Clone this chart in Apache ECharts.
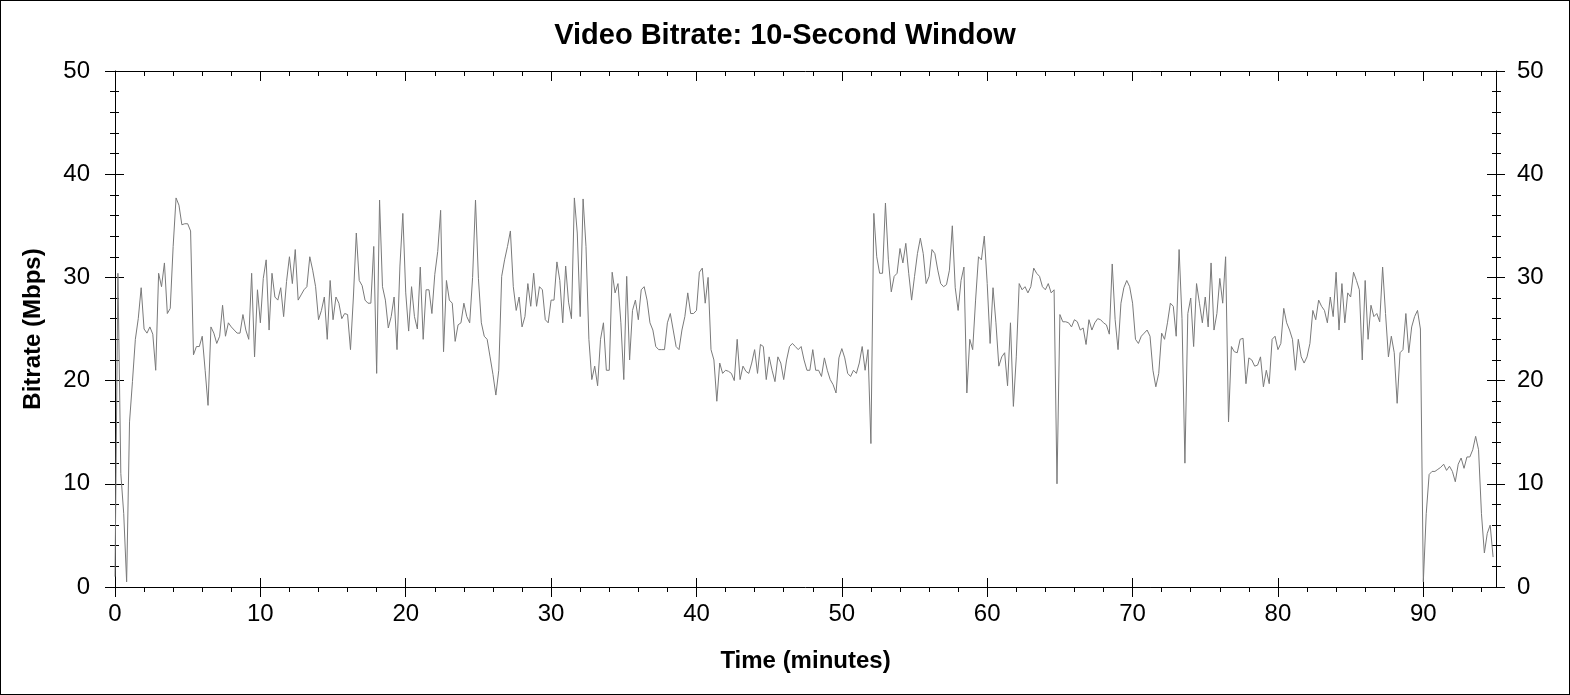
<!DOCTYPE html>
<html>
<head>
<meta charset="utf-8">
<script src="https://cdn.jsdelivr.net/npm/echarts@6/dist/echarts.min.js"></script>
<style>
html, body { margin: 0; padding: 0; background: #fff; }
#wrap { position: relative; width: 1570px; height: 695px; }
#chart { position: absolute; left: 0; top: 0; width: 1570px; height: 695px; }
#frame { position: absolute; left: 0; top: 0; width: 1570px; height: 695px; box-sizing: border-box; border: 1px solid #000; pointer-events: none; }
</style>
</head>
<body>
<div id="wrap"><div id="chart"></div><div id="frame"></div></div>
<script>
// Sample spacing of the bitrate readings, in minutes
const STEP_MINUTES = 0.2;

// Bitrate (Mbps), one value every 0.2 minutes, split by 10-minute block
const rates00to10 = [1, 30.4, 11, 7.1, 0.5, 16, 19.9, 24, 26, 29,
  25, 24.6, 25.2, 24.5, 21, 30.4, 29.1, 31.4, 26.5, 27,
  33, 37.7, 37, 35.1, 35.2, 35.2, 34.5, 22.5, 23.3, 23.3,
  24.3, 21, 17.6, 25.2, 24.6, 23.6, 24.3, 27.3, 24.3, 25.6,
  25.2, 24.9, 24.6, 24.6, 26.4, 24.9, 24, 30.4, 22.3, 28.8];
const rates10to20 = [25.6, 29.9, 31.7, 24.9, 30.4, 28.1, 27.8, 29, 26.2, 29.6,
  32, 29.4, 32.7, 27.8, 28.3, 28.8, 29.1, 32, 30.7, 29.1,
  25.9, 26.8, 28.1, 24, 29.7, 25.9, 28.1, 27.5, 26, 26.5,
  26.4, 23, 28.1, 34.3, 29.7, 29.2, 27.8, 27.5, 27.5, 33,
  20.7, 37.5, 29.1, 27.8, 25.1, 26.2, 28.1, 23, 31.1, 36.2];
const rates20to30 = [28.5, 24.8, 29.1, 26.2, 25, 31, 24, 28.8, 28.8, 26.5,
  30.3, 32.5, 36.5, 22.8, 29.7, 27.8, 27.5, 23.8, 25.4, 25.6,
  27.5, 26.2, 25.6, 30, 37.5, 29.9, 25.6, 24.3, 24, 22.3,
  20.6, 18.6, 21, 30.1, 31.7, 33, 34.5, 29.1, 26.8, 28.1,
  25.2, 26.2, 29.4, 27.2, 30.4, 27.2, 29.1, 28.8, 25.9, 25.6];
const rates30to40 = [27.8, 27.8, 31.5, 29.7, 25.6, 31.1, 27.6, 26, 37.7, 34.3,
  26.2, 37.6, 33, 24, 20.1, 21.4, 19.5, 24, 25.6, 21,
  21, 30.5, 28.5, 29.4, 25.6, 20.1, 30.1, 22, 26.8, 27.8,
  25.9, 28.8, 29.1, 27.8, 25.6, 24.9, 23.3, 23, 23, 23,
  25.6, 26.5, 24.9, 23.3, 23, 24.9, 26.2, 28.5, 26.5, 26.5];
const rates40to50 = [26.8, 30.5, 30.9, 27.5, 30, 23, 22, 18, 21.7, 20.7,
  21, 20.9, 20.7, 20, 24, 20.1, 21.4, 20.9, 20.7, 21.7,
  23, 20.7, 23.5, 23.3, 20.1, 22.3, 21, 19.9, 22.3, 21.7,
  20.1, 22, 23.3, 23.6, 23.3, 23, 23.3, 22, 21, 21,
  23, 21, 21, 20.4, 22.2, 21, 20.1, 19.6, 18.8, 22.2];
const rates50to60 = [23.1, 22.2, 20.7, 20.4, 21, 20.7, 21.7, 23.3, 21, 23,
  13.9, 36.2, 32, 30.4, 30.4, 37.2, 31.7, 28.6, 30.1, 30.4,
  32.8, 31.4, 33.3, 30.4, 27.8, 30.1, 32.3, 33.8, 32.3, 29.4,
  30.1, 32.7, 32.3, 30.7, 29.4, 29.1, 29.3, 30.7, 35, 29,
  26.8, 29.7, 31, 18.8, 24, 23, 27.8, 32, 31.7, 34];
const rates60to70 = [29.4, 23.6, 29, 25.6, 21.4, 22.3, 22.7, 19.5, 25.6, 17.5,
  22.3, 29.4, 28.8, 29.1, 28.5, 29.1, 30.9, 30.4, 30.1, 29.1,
  28.8, 29.4, 28.5, 28.8, 10, 26.4, 25.7, 25.7, 25.6, 25.2,
  25.9, 25.7, 24.9, 25.1, 23.5, 25.9, 24.9, 25.6, 26, 25.9,
  25.6, 25.4, 24.5, 31.3, 25.9, 23, 27.5, 29, 29.7, 29.1];
const rates70to80 = [27.5, 24, 23.6, 24.3, 24.6, 24.9, 24.3, 21, 19.4, 20.7,
  24.6, 24, 25.6, 27.5, 27.2, 24.3, 32.7, 26, 12, 26.5,
  28, 23.3, 29.4, 27.5, 25.6, 28.1, 25.2, 31.4, 24.9, 26.5,
  29.9, 27.5, 32, 16, 23.3, 22.8, 22.7, 24, 24.1, 19.7,
  22.2, 22, 21.4, 21.5, 22.3, 19.4, 21, 19.7, 24, 24.3];
const rates80to90 = [23, 23.6, 27, 25.6, 24.9, 24, 21, 24, 22.3, 21.7,
  22.3, 23.6, 26.8, 25.9, 27.8, 27.2, 26.8, 25.6, 28.1, 26.2,
  30.5, 24.9, 29.4, 25.6, 28.5, 28.1, 30.5, 29.7, 28.8, 22,
  29.7, 24, 27.3, 26.2, 26.5, 25.7, 31, 26.5, 22.3, 24.3,
  22.7, 17.8, 22.7, 23, 26.5, 22.7, 25.2, 26.2, 26.8, 25];
const rates90to95 = [0.5, 7.1, 10.9, 11.2, 11.2, 11.4, 11.6, 11.9, 11.3, 11.7,
  11.2, 10.2, 11.9, 12.5, 11.5, 12.6, 12.6, 13.3, 14.6, 13.3,
  7.1, 3.3, 5.2, 6, 2.9];

// Axis ticks
const xMajorTicks = [0, 10, 20, 30, 40, 50, 60, 70, 80, 90];
const xMinorTicks = [2, 4, 6, 8, 12, 14, 16, 18, 22, 24, 26, 28, 32, 34, 36, 38,
  42, 44, 46, 48, 52, 54, 56, 58, 62, 64, 66, 68, 72, 74, 76, 78, 82, 84, 86, 88, 92, 94];
const X_MIN = 0, X_MAX = 95;
const Y_MIN = 0, Y_MAX = 50, Y_STEP = 10;

const TITLE = 'Video Bitrate: 10-Second Window';
const X_NAME = 'Time (minutes)';
const Y_NAME = 'Bitrate (Mbps)';

const blocks = [rates00to10, rates10to20, rates20to30, rates30to40, rates40to50,
  rates50to60, rates60to70, rates70to80, rates80to90, rates90to95];
const seriesData = blocks.flat().map((v, i) => [Math.round(i * STEP_MINUTES * 10) / 10, v]);

const FONT = '"Liberation Sans", Arial, sans-serif';
const black = { color: '#000', width: 1 };

function xAx(extra) {
  return Object.assign({
    type: 'value', min: X_MIN, max: X_MAX,
    splitLine: { show: false },
    axisLine: { show: false, onZero: false, lineStyle: black },
    axisLabel: { show: false },
    axisTick: { show: true, lineStyle: black },
    minorTick: { show: false }
  }, extra);
}
function yAx(extra) {
  return Object.assign({
    type: 'value', min: Y_MIN, max: Y_MAX, interval: Y_STEP,
    splitLine: { show: false },
    minorSplitLine: { show: false },
    axisLine: { show: false, onZero: false, lineStyle: black },
    axisLabel: { show: false },
    axisTick: { show: true, lineStyle: black }
  }, extra);
}

const chart = echarts.init(document.getElementById('chart'), null, { renderer: 'canvas' });
chart.setOption({
  animation: false,
  backgroundColor: '#fff',
  title: {
    text: TITLE, left: 'center', top: 16,
    textStyle: { fontSize: 29, fontWeight: 'bold', color: '#000', fontFamily: FONT }
  },
  grid: { left: 115, right: 74, top: 71, bottom: 108, containLabel: false, outerBoundsMode: 'none' },
  xAxis: [
    xAx({
      position: 'bottom',
      axisLine: { show: true, onZero: false, lineStyle: black },
      axisTick: { show: true, inside: false, length: 10, customValues: xMajorTicks, lineStyle: black },
      axisLabel: { show: true, customValues: xMajorTicks, margin: 15, fontSize: 24, color: '#000', fontFamily: FONT },
      name: X_NAME, nameLocation: 'middle', nameGap: 62, nameMoveOverlap: false,
      nameTextStyle: { fontSize: 24, fontWeight: 'bold', color: '#000', fontFamily: FONT }
    }),
    xAx({ position: 'bottom', axisTick: { show: true, inside: true, length: 9, customValues: xMajorTicks, lineStyle: black } }),
    xAx({ position: 'bottom', axisTick: { show: true, inside: false, length: 5, customValues: xMinorTicks, lineStyle: black } }),
    xAx({
      position: 'top',
      axisLine: { show: true, onZero: false, lineStyle: black },
      axisTick: { show: true, inside: true, length: 10, customValues: xMajorTicks, lineStyle: black }
    }),
    xAx({ position: 'top', axisTick: { show: true, inside: true, length: 5, customValues: xMinorTicks, lineStyle: black } })
  ],
  yAxis: [
    yAx({
      position: 'left',
      axisLine: { show: true, onZero: false, lineStyle: black },
      axisTick: { show: true, inside: false, length: 10, lineStyle: black },
      minorTick: { show: true, splitNumber: 5, length: 5, lineStyle: black },
      axisLabel: { show: true, margin: 25, fontSize: 24, color: '#000', fontFamily: FONT },
      name: Y_NAME, nameLocation: 'middle', nameGap: 70, nameRotate: 90, nameMoveOverlap: false,
      nameTextStyle: { fontSize: 24, fontWeight: 'bold', color: '#000', fontFamily: FONT }
    }),
    yAx({
      position: 'left',
      axisTick: { show: true, inside: true, length: 9, lineStyle: black },
      minorTick: { show: true, splitNumber: 5, length: 4, lineStyle: black }
    }),
    yAx({
      position: 'right',
      axisLine: { show: true, onZero: false, lineStyle: black },
      axisTick: { show: true, inside: false, length: 9, lineStyle: black },
      minorTick: { show: true, splitNumber: 5, length: 5, lineStyle: black },
      axisLabel: { show: true, margin: 21, fontSize: 24, color: '#000', fontFamily: FONT }
    }),
    yAx({
      position: 'right',
      axisTick: { show: true, inside: true, length: 9, lineStyle: black },
      minorTick: { show: true, splitNumber: 5, length: 4, lineStyle: black }
    })
  ],
  series: [{
    type: 'line',
    xAxisIndex: 0, yAxisIndex: 0,
    data: seriesData,
    showSymbol: false,
    symbol: 'none',
    smooth: false,
    lineStyle: { color: '#7a7a7a', width: 1 },
    emphasis: { disabled: true }
  }]
});
</script>
</body>
</html>
